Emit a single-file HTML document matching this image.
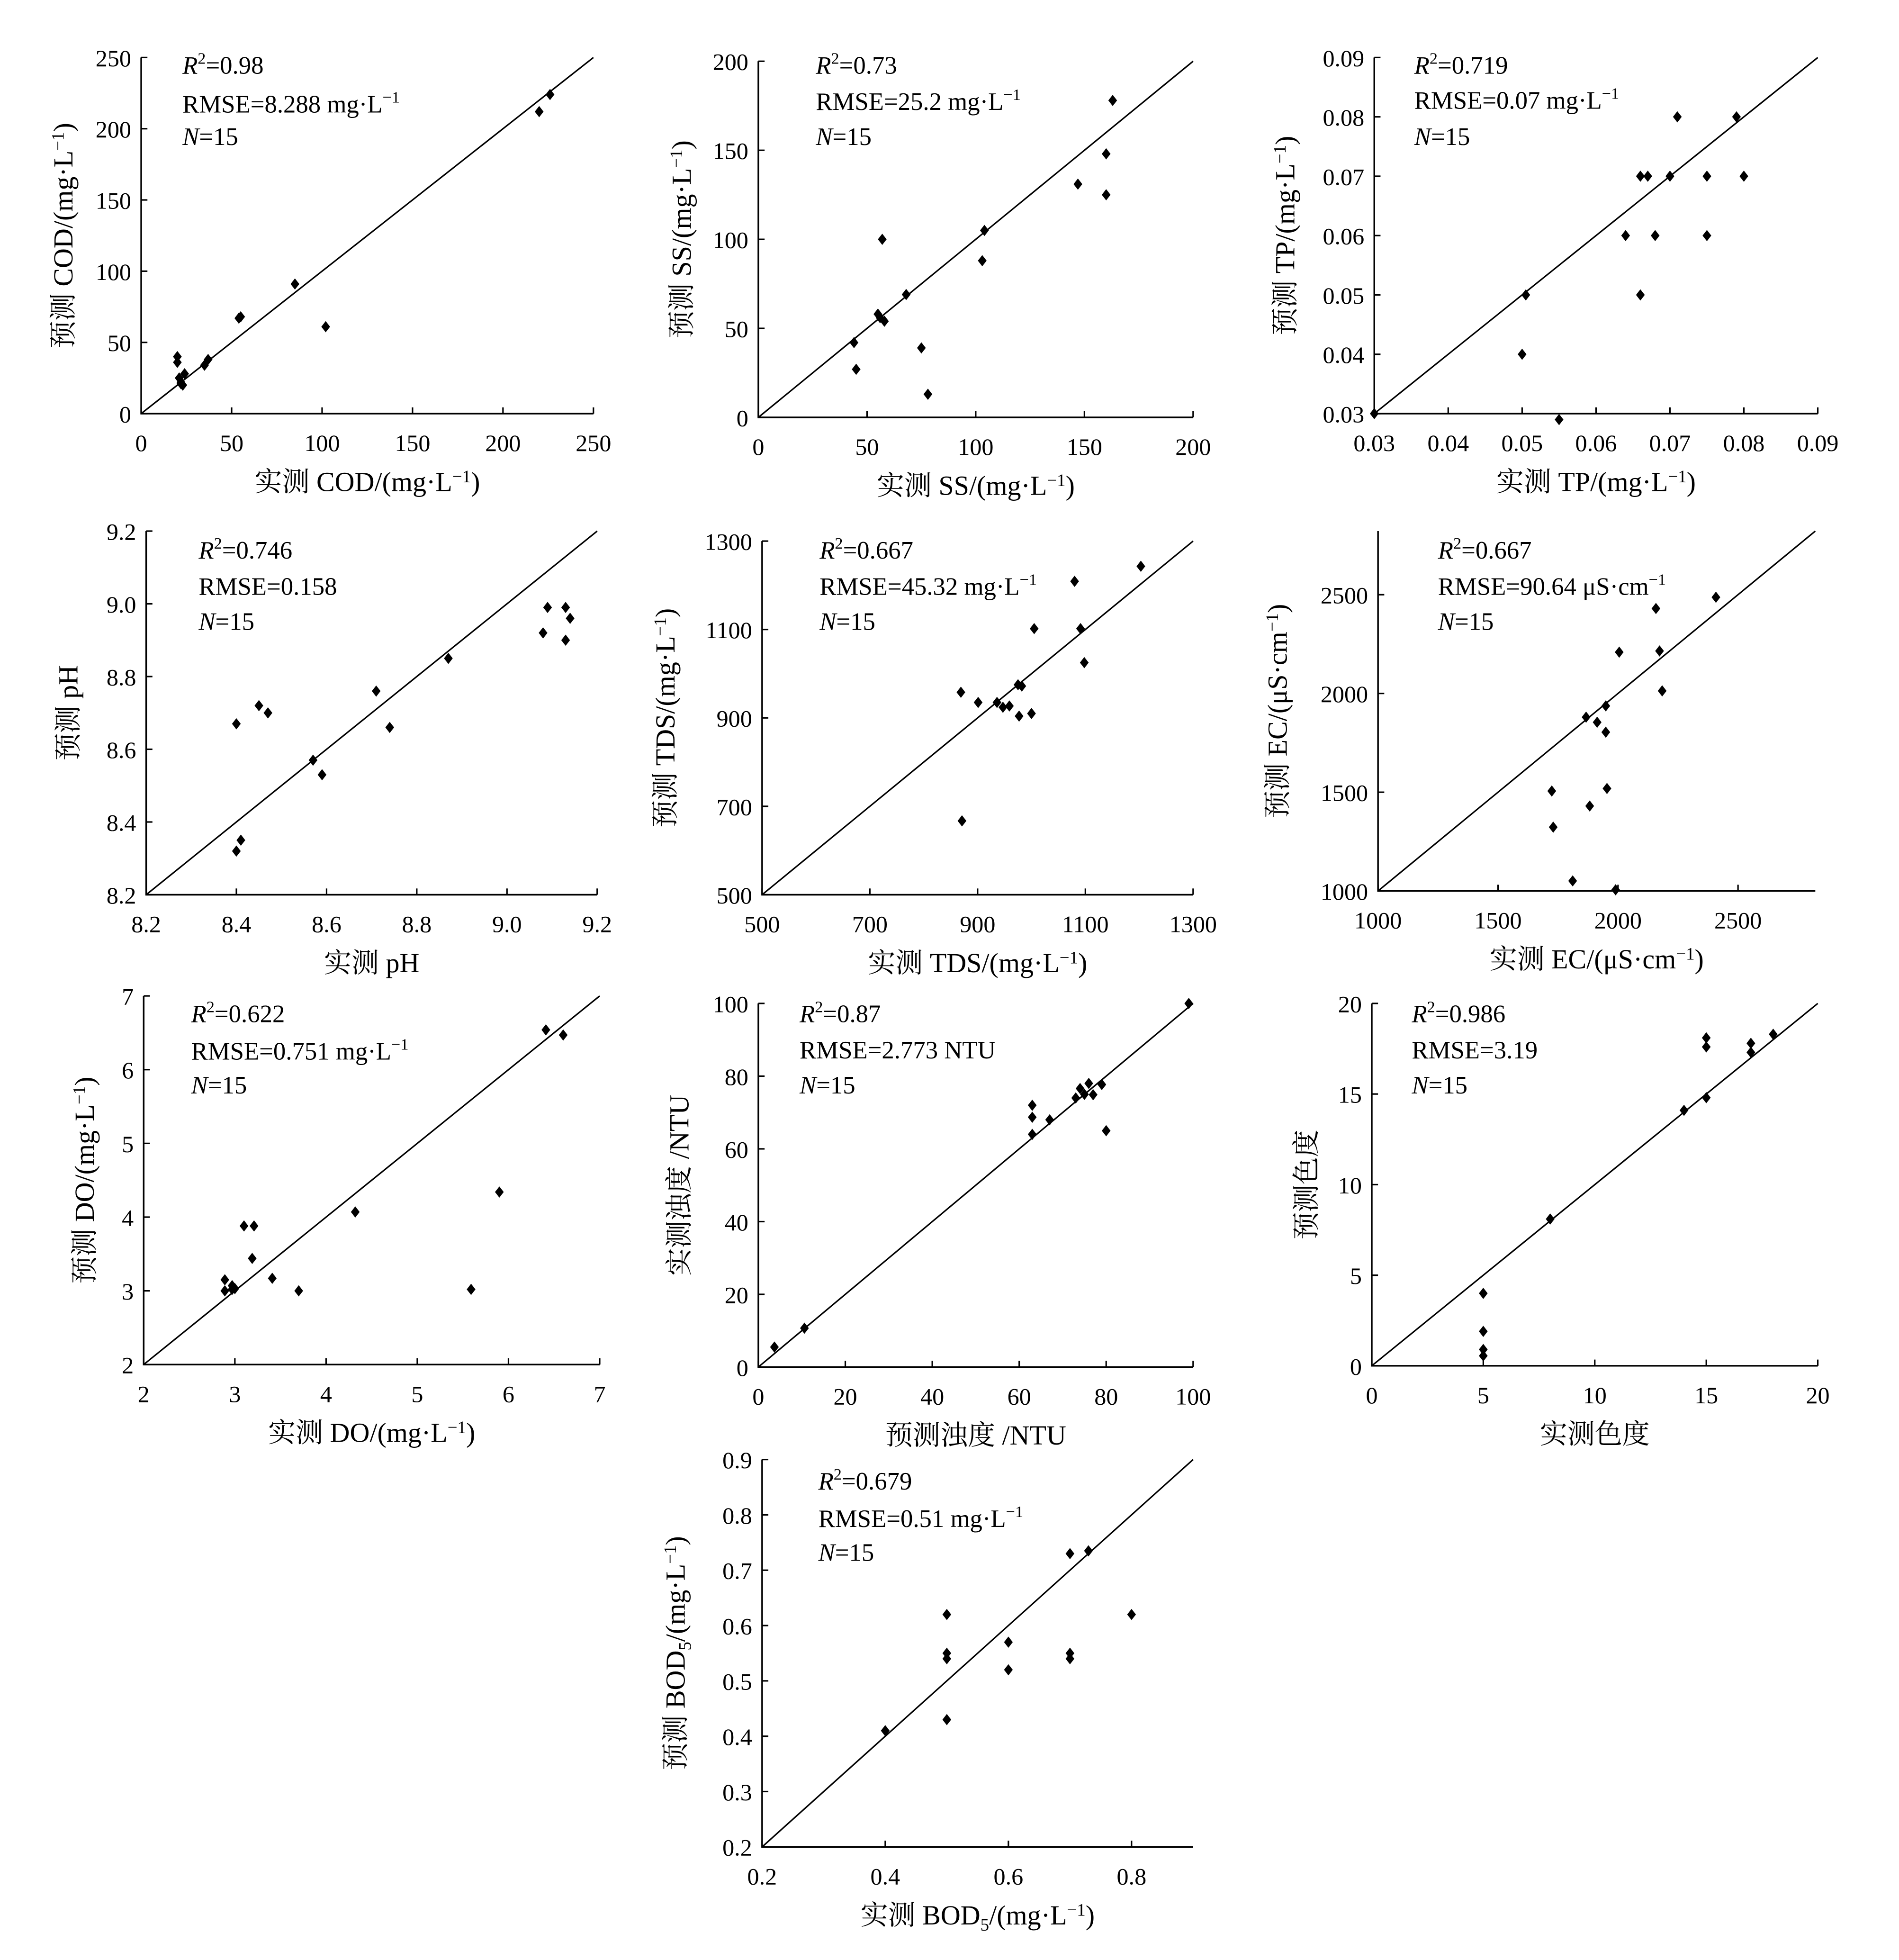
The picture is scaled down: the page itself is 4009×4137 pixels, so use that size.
<!DOCTYPE html>
<html><head><meta charset="utf-8"><style>
html,body{margin:0;padding:0;background:#fff}
svg{display:block}
text{font-family:"Liberation Serif","Noto Serif CJK SC","Noto Sans CJK SC",serif;fill:#000}
</style></head><body>
<svg id="fig" xmlns="http://www.w3.org/2000/svg" width="4009" height="4137" viewBox="0 0 1520 1568.5"></svg>
<script>
// ---- data ----
const codX=[20,20,21,22,23,24,35,37,54,55,85,102,220,226,22];
const codY=[40,36,25,22,20,28,34,38,67,68,91,61,212,224,21];
const ssX=[44,45,55,58,57,68,75,78,103,104,147,160,160,163,56];
const ssY=[42,27,58,54,100,69,39,13,88,105,131,148,125,178,56];
const tpX=[0.030,0.0505,0.050,0.055,0.064,0.066,0.067,0.068,0.070,0.071,0.075,0.075,0.079,0.080,0.066];
const tpY=[0.030,0.050,0.040,0.029,0.060,0.050,0.070,0.060,0.070,0.080,0.070,0.060,0.080,0.070,0.070];
const phX=[8.40,8.41,8.40,8.45,8.47,8.57,8.59,8.71,8.74,8.87,9.08,9.09,9.13,9.14,9.13];
const phY=[8.32,8.35,8.67,8.72,8.70,8.57,8.53,8.76,8.66,8.85,8.92,8.99,8.99,8.96,8.90];
const tdsX=[869,901,936,947,959,975,982,977,1000,1005,1080,1091,1098,1203,871];
const tdsY=[958,935,935,924,927,975,972,904,910,1102,1209,1102,1025,1243,667];
const ecX=[1724,1730,1811,1867,1913,1949,1949,1954,1882,1990,2005,2158,2173,2184,2408];
const ecY=[1506,1323,1051,1880,1854,1937,1804,1519,1430,1006,2209,2430,2215,2013,2487];
const doX=[2.89,2.89,2.97,3.0,3.1,3.21,3.19,3.41,3.7,4.32,5.59,5.9,6.41,6.60,2.97];
const doY=[3.15,3.0,3.07,3.03,3.88,3.88,3.44,3.17,3.0,4.07,3.02,4.34,6.54,6.47,3.02];
const turbX=[3.7,10.6,63,63,63,67,75,76,77,79,80,99,73,74];
const turbY=[5.5,10.7,72,68.7,64,68,75,78,74.9,77.7,65,100,74,76.6];
const colX=[5,5,5,5,8,14,15,15,15,17,17,18];
const colY=[4,1.9,0.9,0.55,8.1,14.1,14.8,18.1,17.6,17.8,17.3,18.3];
const bodX=[0.4,0.5,0.5,0.5,0.5,0.6,0.6,0.7,0.7,0.7,0.73,0.8];
const bodY=[0.41,0.62,0.55,0.54,0.43,0.57,0.52,0.73,0.55,0.54,0.735,0.62];
const codTicks=[0,50,100,150,200,250];
const ssTicks=[0,50,100,150,200];
const tpTicks=[0.03,0.04,0.05,0.06,0.07,0.08,0.09];
const phTicks=[8.2,8.4,8.6,8.8,9.0,9.2];
const tdsTicks=[500,700,900,1100,1300];
const ecTicks=[1000,1500,2000,2500];
const doTicks=[2,3,4,5,6,7];
const turbTicks=[0,20,40,60,80,100];
const colTicks=[0,5,10,15,20];
const bodXTicks=[0.2,0.4,0.6,0.8];
const bodYTicks=[0.2,0.3,0.4,0.5,0.6,0.7,0.8,0.9];

const U='(mg·L<tspan dy="-7" font-size="14">−1</tspan><tspan dy="7">)</tspan>';
const panels=[
 {n:'cod',x0:113,x1:475,y0:331,y1:46,min:0,max:250,xs:codX,ys:codY,xt:codTicks,yt:codTicks,dec:0,
  xtitle:'实测 COD/'+U,ytitle:'预测 COD/'+U,ytx:50,sx:146,sy:[59,90,116],
  stats:['R2=0.98','RMSE=8.288 mg·L-1','N=15']},
 {n:'ss',x0:607,x1:955,y0:334,y1:49,min:0,max:200,xs:ssX,ys:ssY,xt:ssTicks,yt:ssTicks,dec:0,
  xtitle:'实测 SS/'+U,ytitle:'预测 SS/'+U,ytx:545,sx:653,sy:[59,88,116],
  stats:['R2=0.73','RMSE=25.2 mg·L-1','N=15']},
 {n:'tp',x0:1100,x1:1455,y0:331,y1:46,min:0.03,max:0.09,xs:tpX,ys:tpY,xt:tpTicks,yt:tpTicks,dec:2,
  xtitle:'实测 TP/'+U,ytitle:'预测 TP/'+U,ytx:1028,sx:1132,sy:[59,87,116],
  stats:['R2=0.719','RMSE=0.07 mg·L-1','N=15']},
 {n:'ph',x0:117,x1:478,y0:716,y1:425,min:8.2,max:9.2,xs:phX,ys:phY,xt:phTicks,yt:phTicks,dec:1,
  xtitle:'实测 pH',ytitle:'预测 pH',ytx:54,sx:159,sy:[447,476,504],
  stats:['R2=0.746','RMSE=0.158','N=15']},
 {n:'tds',x0:610,x1:955,y0:716,y1:433,min:500,max:1300,xs:tdsX,ys:tdsY,xt:tdsTicks,yt:tdsTicks,dec:0,
  xtitle:'实测 TDS/'+U,ytitle:'预测 TDS/'+U,ytx:532,sx:656,sy:[447,476,504],
  stats:['R2=0.667','RMSE=45.32 mg·L-1','N=15']},
 {n:'ec',x0:1103,x1:1453,y0:713,y1:425,min:1000,max:2822,xs:ecX,ys:ecY,xt:ecTicks,yt:ecTicks,dec:0,
  xtitle:'实测 EC/(μS·cm<tspan dy="-7" font-size="14">−1</tspan><tspan dy="7">)</tspan>',
  ytitle:'预测 EC/(μS·cm<tspan dy="-7" font-size="14">−1</tspan><tspan dy="7">)</tspan>',ytx:1022,sx:1151,sy:[447,476,504],
  stats:['R2=0.667','RMSE=90.64 μS·cm-1','N=15']},
 {n:'do',x0:115,x1:480,y0:1092,y1:797,min:2,max:7,xs:doX,ys:doY,xt:doTicks,yt:doTicks,dec:0,
  xtitle:'实测 DO/'+U,ytitle:'预测 DO/'+U,ytx:67,sx:153,sy:[818,848,875],
  stats:['R2=0.622','RMSE=0.751 mg·L-1','N=15']},
 {n:'turb',x0:607,x1:955,y0:1094,y1:803,min:0,max:100,xs:turbX,ys:turbY,xt:turbTicks,yt:turbTicks,dec:0,
  xtitle:'预测浊度 /NTU',ytitle:'实测浊度 /NTU',ytx:543,sx:640,sy:[818,847,875],
  stats:['R2=0.87','RMSE=2.773 NTU','N=15']},
 {n:'color',x0:1098,x1:1455,y0:1093,y1:803,min:0,max:20,xs:colX,ys:colY,xt:colTicks,yt:colTicks,dec:0,
  xtitle:'实测色度',ytitle:'预测色度',ytx:1045,sx:1130,sy:[818,847,875],
  stats:['R2=0.986','RMSE=3.19','N=15']},
 {n:'bod',x0:610,x1:955,y0:1478,y1:1168,min:0.2,max:0.9,xs:bodX,ys:bodY,xt:bodXTicks,yt:bodYTicks,dec:1,
  xtitle:'实测 BOD<tspan dy="5" font-size="14">5</tspan><tspan dy="-5">/</tspan>'+U,
  ytitle:'预测 BOD<tspan dy="5" font-size="14">5</tspan><tspan dy="-5">/</tspan>'+U,ytx:540,sx:655,sy:[1192,1222,1249],
  stats:['R2=0.679','RMSE=0.51 mg·L-1','N=15']}
];
const NS='http://www.w3.org/2000/svg';
const svg=document.getElementById('fig');
function mk(tag,attrs,parent){const e=document.createElementNS(NS,tag);for(const k in attrs)e.setAttribute(k,attrs[k]);parent.appendChild(e);return e;}
function statHTML(s){
 if(s.startsWith('R2=')) return '<tspan font-style="italic">R</tspan><tspan dy="-8" font-size="13">2</tspan><tspan dy="8">'+s.slice(2)+'</tspan>';
 if(s.startsWith('N=')) return '<tspan font-style="italic">N</tspan>'+s.slice(1);
 if(s.endsWith('-1')) return s.slice(0,-2)+'<tspan dy="-8" font-size="13">−1</tspan>';
 return s;
}
panels.forEach(p=>{
 const g=mk('g',{},svg);
 
 
 const sx=v=>p.x0+(v-p.min)/(p.max-p.min)*(p.x1-p.x0);
 const sy=v=>p.y0-(v-p.min)/(p.max-p.min)*(p.y0-p.y1);
 const ax=mk('path',{d:`M${p.x0},${p.y1}V${p.y0}H${p.x1}`,fill:'none',stroke:'#000','stroke-width':1.3},g);
 
 
 const fmt=v=>v.toFixed(p.dec);
 p.xt.forEach(t=>{const x=sx(t);
  mk('line',{x1:x,x2:x,y1:p.y0,y2:p.y0-5,stroke:'#000','stroke-width':1.2},g);
  const tx=mk('text',{x:x,y:p.y0+30,'text-anchor':'middle','font-size':19},g);tx.textContent=fmt(t);
  
  });
 p.yt.forEach(t=>{const y=sy(t);
  mk('line',{x1:p.x0,x2:p.x0+5,y1:y,y2:y,stroke:'#000','stroke-width':1.2},g);
  const ty=mk('text',{x:p.x0-8,y:y+7,'text-anchor':'end','font-size':19},g);ty.textContent=fmt(t);
  
  });
 const dl=mk('line',{x1:sx(p.min),y1:sy(p.min),x2:p.x1,y2:p.y1,stroke:'#000','stroke-width':1.2},g);
 
 
 p.xs.forEach((v,i)=>{const x=sx(v),y=sy(p.ys[i]);
  const m=mk('path',{d:`M${x},${y-4.5}L${x+3.5},${y}L${x},${y+4.5}L${x-3.5},${y}Z`,fill:'#000'},g);
  
  });
 const xt=mk('text',{x:(p.x0+p.x1)/2,y:p.y0+62,'text-anchor':'middle','font-size':22},g);xt.innerHTML=p.xtitle;
 
 
 const cy=(p.y0+p.y1)/2;
 const yt=mk('text',{x:p.ytx,y:cy,'text-anchor':'middle','font-size':22,transform:`rotate(-90 ${p.ytx} ${cy}) translate(0 8)`},g);yt.innerHTML=p.ytitle;
 
 
 p.stats.forEach((s,i)=>{const st=mk('text',{x:p.sx,y:p.sy[i],'font-size':20},g);st.innerHTML=statHTML(s);
  
  });
});
</script>
</body></html>
